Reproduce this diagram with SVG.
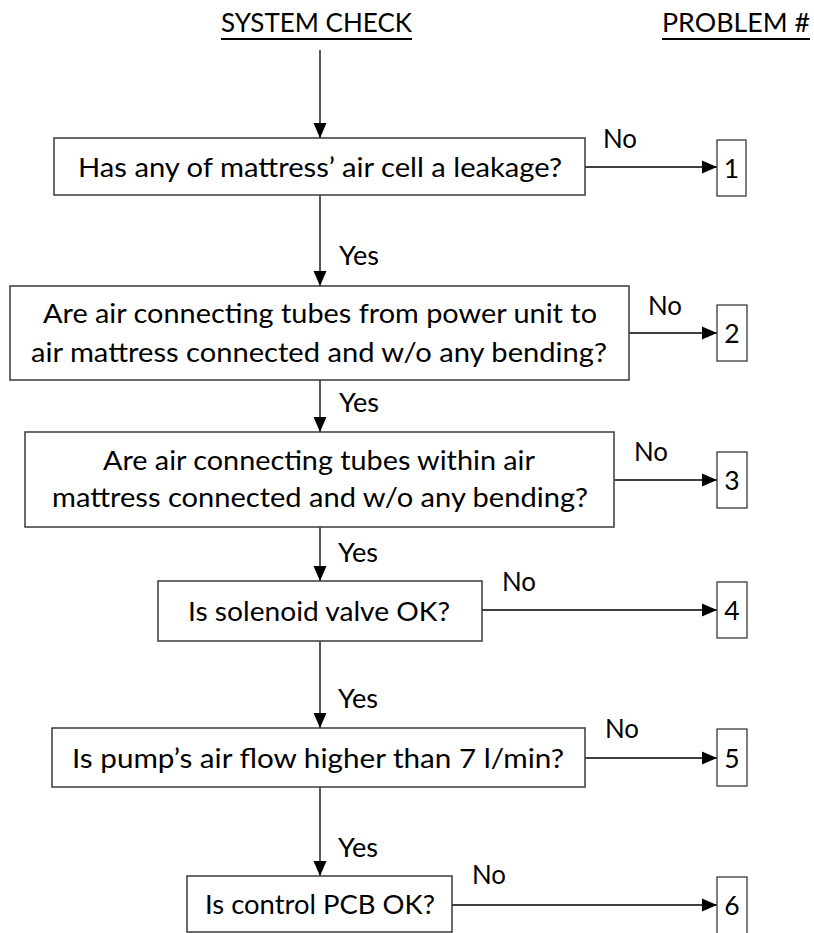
<svg xmlns="http://www.w3.org/2000/svg" width="814" height="933" viewBox="0 0 814 933">
  <defs>
    <marker id="arrow" markerUnits="userSpaceOnUse" markerWidth="15" markerHeight="14" refX="15" refY="7" orient="auto">
      <path d="M0,0.5 L15,7 L0,13.5 z" fill="#000"/>
    </marker>
    <style>
      text { font-family: Lato, "Open Sans", "Liberation Sans", sans-serif; font-size: 26.5px; fill: #000; }
      .c { text-anchor: middle; }
      .box { fill: #fff; stroke: #3a3a3a; stroke-width: 1.5; }
      .num { fill: #fff; stroke: #3a3a3a; stroke-width: 1.3; }
      .conn { stroke: #000; stroke-width: 1.3; fill: none; marker-end: url(#arrow); }
      .ul { stroke: #000; stroke-width: 2; }
    </style>
  </defs>
  <rect width="814" height="933" fill="#fff"/>

  <!-- column headings -->
  <g id="heading-system-check">
    <text x="221" y="32" textLength="191" lengthAdjust="spacingAndGlyphs">SYSTEM CHECK</text>
    <line class="ul" x1="221" y1="39" x2="412" y2="39"/>
  </g>
  <g id="heading-problem">
    <text x="662" y="32" textLength="148" lengthAdjust="spacingAndGlyphs">PROBLEM #</text>
    <line class="ul" x1="662" y1="39" x2="810" y2="39"/>
  </g>

  <!-- connectors -->
  <g id="connectors">
    <line class="conn" x1="320" y1="50" x2="320" y2="138"/>
    <line class="conn" x1="320" y1="195" x2="320" y2="286"/>
    <line class="conn" x1="320" y1="380" x2="320" y2="432"/>
    <line class="conn" x1="320" y1="527" x2="320" y2="581"/>
    <line class="conn" x1="320" y1="641" x2="320" y2="728"/>
    <line class="conn" x1="320" y1="787" x2="320" y2="876"/>

    <line class="conn" x1="585" y1="167" x2="717" y2="167"/>
    <line class="conn" x1="629" y1="333" x2="717" y2="333"/>
    <line class="conn" x1="614" y1="480" x2="717" y2="480"/>
    <line class="conn" x1="482" y1="610" x2="717" y2="610"/>
    <line class="conn" x1="585" y1="758" x2="717" y2="758"/>
    <line class="conn" x1="452" y1="905" x2="717" y2="905"/>

    <text x="339" y="265" textLength="40" lengthAdjust="spacingAndGlyphs">Yes</text>
    <text x="339" y="412" textLength="40" lengthAdjust="spacingAndGlyphs">Yes</text>
    <text x="338" y="562" textLength="40" lengthAdjust="spacingAndGlyphs">Yes</text>
    <text x="338" y="708" textLength="40" lengthAdjust="spacingAndGlyphs">Yes</text>
    <text x="338" y="857" textLength="40" lengthAdjust="spacingAndGlyphs">Yes</text>

    <text x="603" y="148" textLength="34" lengthAdjust="spacingAndGlyphs">No</text>
    <text x="648" y="315" textLength="34" lengthAdjust="spacingAndGlyphs">No</text>
    <text x="634" y="461" textLength="34" lengthAdjust="spacingAndGlyphs">No</text>
    <text x="502" y="591" textLength="34" lengthAdjust="spacingAndGlyphs">No</text>
    <text x="605" y="738" textLength="34" lengthAdjust="spacingAndGlyphs">No</text>
    <text x="472" y="884" textLength="34" lengthAdjust="spacingAndGlyphs">No</text>
  </g>

  <!-- decision boxes -->
  <g id="check-leakage">
    <rect class="box" x="54" y="138" width="531" height="57"/>
    <text class="c" x="320" y="177" textLength="484" lengthAdjust="spacingAndGlyphs">Has any of mattress’ air cell a leakage?</text>
  </g>
  <g id="check-external-tubes">
    <rect class="box" x="10" y="286" width="619" height="94"/>
    <text class="c" x="320" y="323" textLength="554" lengthAdjust="spacingAndGlyphs">Are air connecting tubes from power unit to</text>
    <text class="c" x="319" y="362" textLength="576" lengthAdjust="spacingAndGlyphs">air mattress connected and w/o any bending?</text>
  </g>
  <g id="check-internal-tubes">
    <rect class="box" x="25" y="432" width="589" height="95"/>
    <text class="c" x="319" y="470" textLength="432" lengthAdjust="spacingAndGlyphs">Are air connecting tubes within air</text>
    <text class="c" x="320" y="507" textLength="536" lengthAdjust="spacingAndGlyphs">mattress connected and w/o any bending?</text>
  </g>
  <g id="check-solenoid">
    <rect class="box" x="158" y="581" width="324" height="60"/>
    <text class="c" x="319" y="621" textLength="262" lengthAdjust="spacingAndGlyphs">Is solenoid valve OK?</text>
  </g>
  <g id="check-pump">
    <rect class="box" x="52" y="728" width="533" height="59"/>
    <text class="c" x="318" y="768" textLength="492" lengthAdjust="spacingAndGlyphs">Is pump’s air flow higher than 7 l/min?</text>
  </g>
  <g id="check-pcb">
    <rect class="box" x="187" y="876" width="265" height="56"/>
    <text class="c" x="320" y="914" textLength="230" lengthAdjust="spacingAndGlyphs">Is control PCB OK?</text>
  </g>

  <!-- problem numbers -->
  <g id="problem-1"><rect class="num" x="717" y="140" width="29" height="56"/><text class="c" x="731.5" y="178">1</text></g>
  <g id="problem-2"><rect class="num" x="717" y="305" width="30" height="56"/><text class="c" x="732" y="343">2</text></g>
  <g id="problem-3"><rect class="num" x="717" y="452" width="30" height="56"/><text class="c" x="732" y="490">3</text></g>
  <g id="problem-4"><rect class="num" x="717" y="582" width="30" height="56"/><text class="c" x="732" y="620">4</text></g>
  <g id="problem-5"><rect class="num" x="717" y="729" width="30" height="57"/><text class="c" x="732" y="768">5</text></g>
  <g id="problem-6"><rect class="num" x="717" y="877" width="30" height="57"/><text class="c" x="732" y="915">6</text></g>
</svg>
